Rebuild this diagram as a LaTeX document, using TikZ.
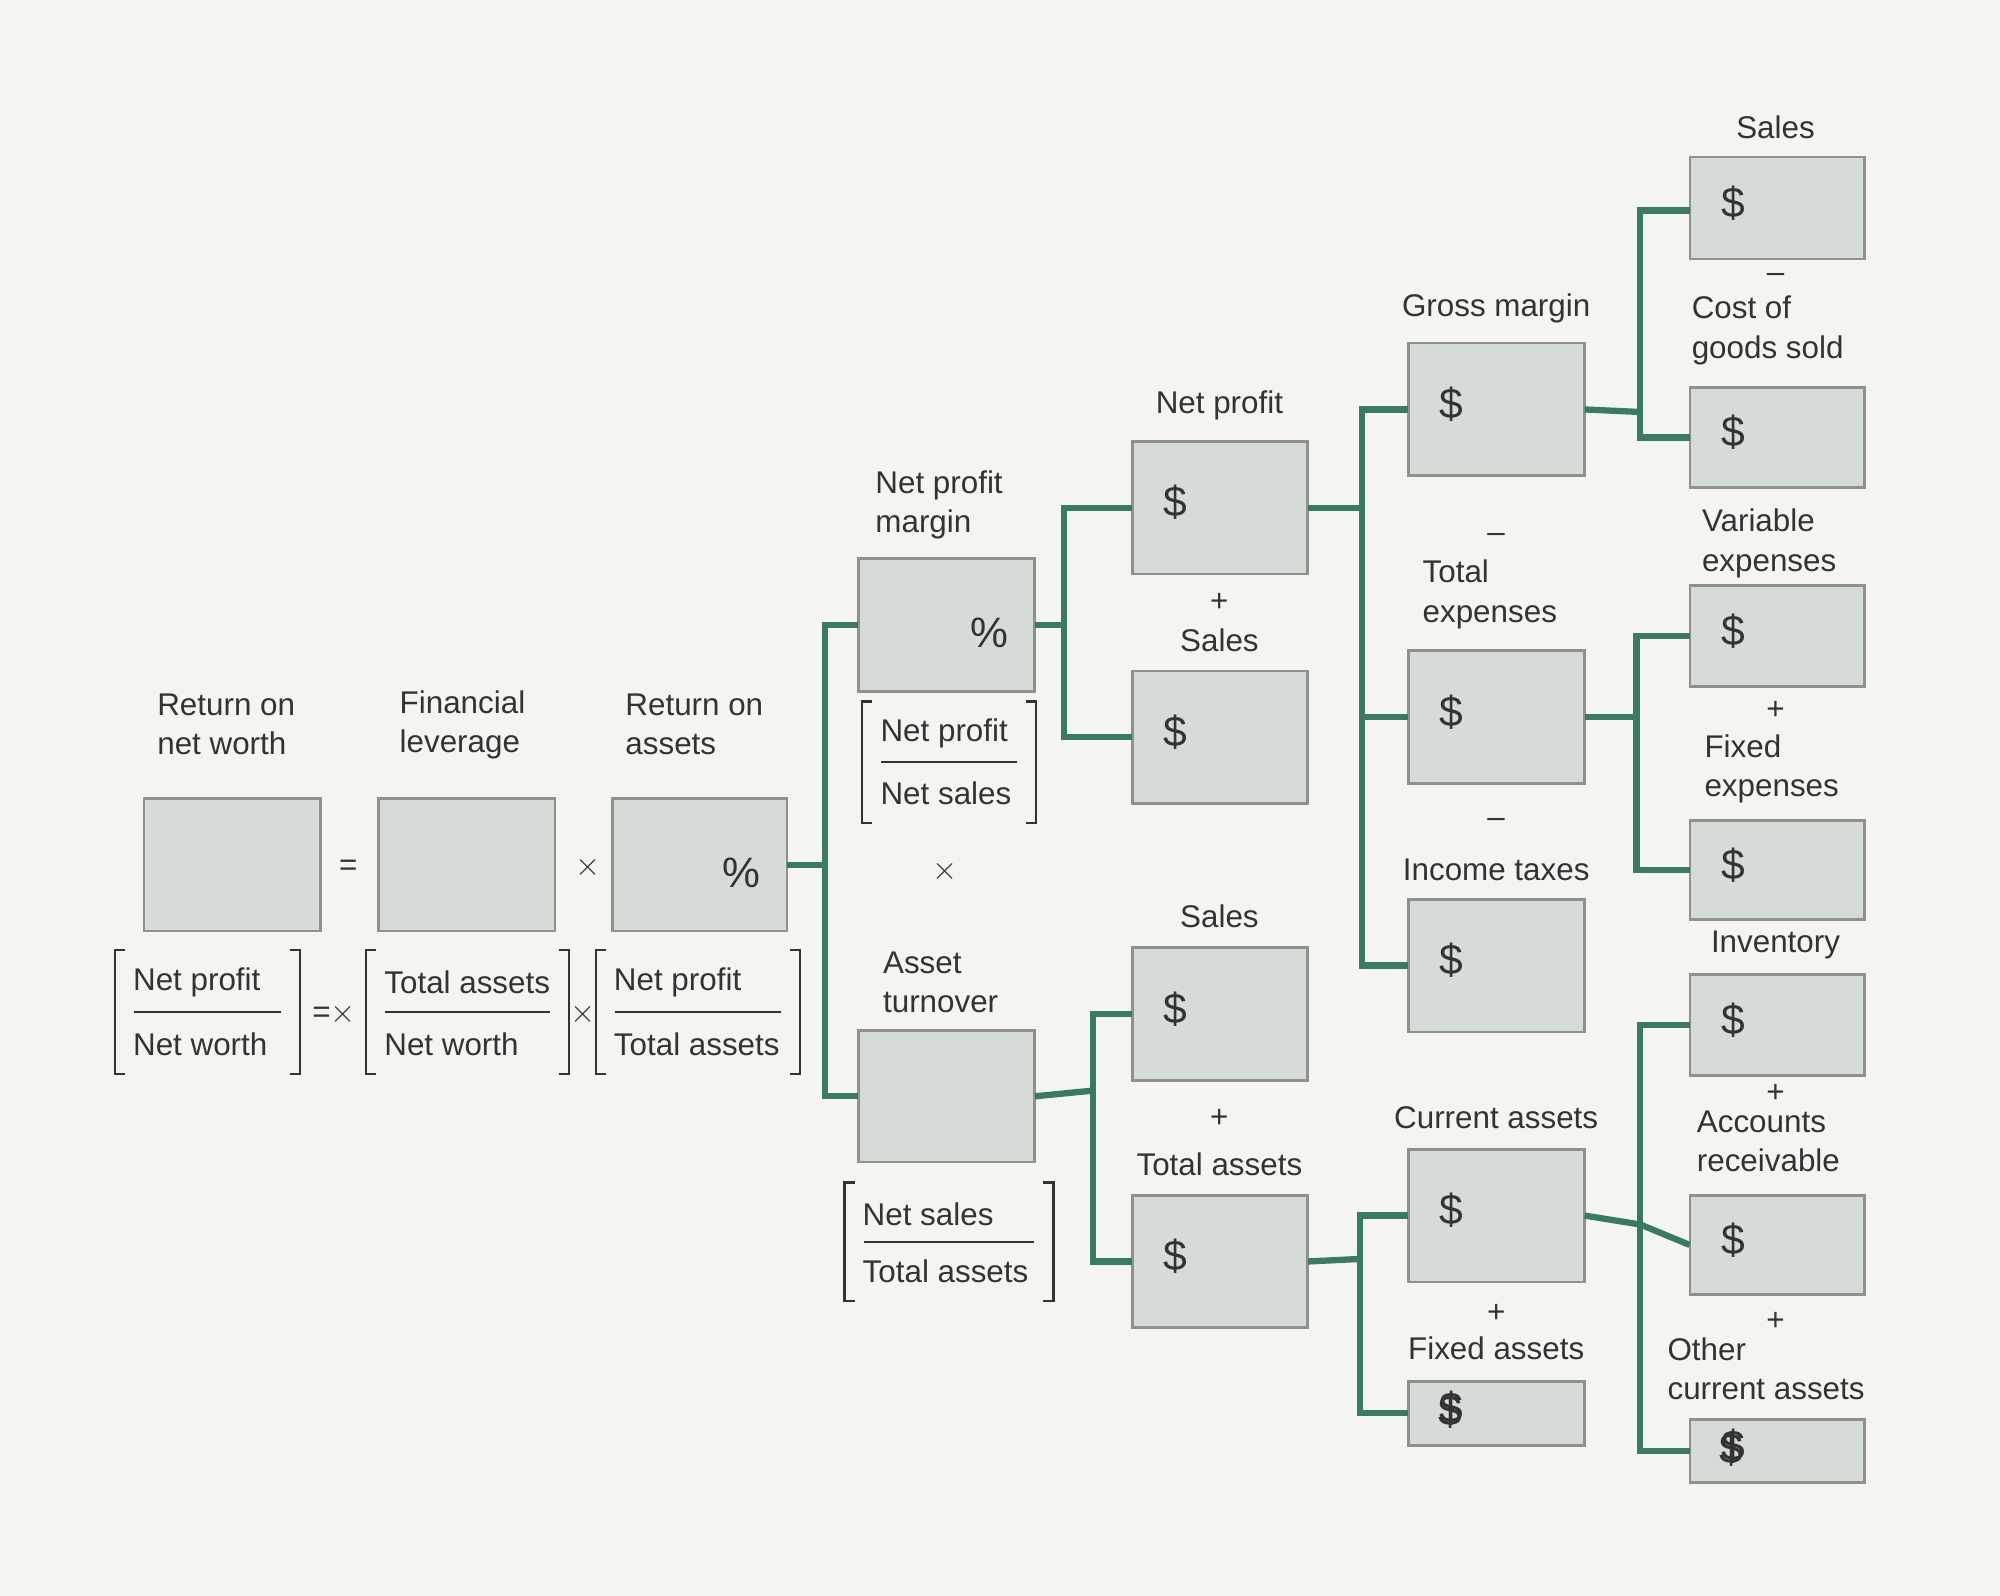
\documentclass[tikz,border=0pt]{standalone}
\usepackage{fontspec}
\setmainfont{Liberation Sans}
\definecolor{bg}{HTML}{F4F4F0}
\definecolor{bxf}{HTML}{D5DBD6}
\definecolor{bxd}{HTML}{8E918E}
\definecolor{gr}{HTML}{3A7A60}
\definecolor{tx}{HTML}{333333}
\begin{document}
\begin{tikzpicture}[x=0.02cm,y=-0.02cm,
  every node/.style={text=tx,font=\fontsize{14}{17.5}\selectfont,inner sep=0pt},
  box/.style={draw=bxd,fill=bxf,line width=1.2pt},
  conn/.style={draw=gr,line width=2.8pt},
  lab/.style={align=center},
  labl/.style={align=left,anchor=west},
  sym/.style={font=\fontsize{19}{20}\selectfont}]
\fill[bg] (0,0) rectangle (1568,1251);
\useasboundingbox (0,0) rectangle (1568,1251);
\newcommand\bx[6]{\draw[box] (#2,#3) rectangle (#4,#5); \node (#1) at ({(#2+#4)/2},{(#3+#5)/2}) [minimum width={(#4-#2)*0.02cm},minimum height={(#5-#3)*0.02cm}] {};\node[sym] (#1s) at ($(#1.west)+(34,-4)$) {#6};}
\newcommand\bxp[5]{\draw[box] (#2,#3) rectangle (#4,#5); \node (#1) at ({(#2+#4)/2},{(#3+#5)/2}) [minimum width={(#4-#2)*0.02cm},minimum height={(#5-#3)*0.02cm}] {};\node[sym] (#1s) at ($(#1.east)+(-36,6)$) {\%};}
\newcommand\fr[7]{\draw[tx,line width=1pt] (#2+8,#4)--(#2,#4)--(#2,#5)--(#2+8,#5) (#3-8,#4)--(#3,#4)--(#3,#5)--(#3-8,#5);
 \draw[tx,line width=0.8pt] (#2+15,{(#4+#5)/2})--(#3-15,{(#4+#5)/2});
 \node[anchor=west] (#1n) at (#2+14,#4+25) {#6};\node[anchor=west] (#1d) at (#2+14,#5-23) {#7};}
\usetikzlibrary{calc}
% boxes
\bx{rnw}{113}{626}{251}{730}{}
\bx{fl}{297}{626}{435}{730}{}
\bxp{roa}{480}{626}{617}{730}
\bxp{npm}{673}{438}{811}{542}
\bx{at}{673}{808}{811}{911}{}
\bx{np}{888}{346}{1025}{450}{\$}
\bx{sa}{888}{526}{1025}{630}{\$}
\bx{sb}{888}{743}{1025}{847}{\$}
\bx{ta}{888}{937}{1025}{1041}{\$}
\bx{gm}{1104}{269}{1242}{373}{\$}
\bx{te}{1104}{510}{1242}{614}{\$}
\bx{it}{1104}{705}{1242}{809}{\$}
\bx{ca}{1104}{901}{1242}{1005}{\$}
\bx{fa}{1104}{1083}{1242}{1133}{\$}
\bx{sc}{1325}{123}{1462}{203}{\$}
\bx{cg}{1325}{304}{1462}{382}{\$}
\bx{ve}{1325}{459}{1462}{538}{\$}
\bx{fe}{1325}{643}{1462}{721}{\$}
\bx{iv}{1325}{764}{1462}{843}{\$}
\bx{ar}{1325}{937}{1462}{1015}{\$}
\bx{oc}{1325}{1113}{1462}{1162}{\$}
\node[sym] (fas) at (1137,1106) {\$};
\node[sym] (ocs) at (1357,1136) {\$};
% connectors
\draw[conn] (roa.east) -- (647,678) coordinate (j1);
\draw[conn] (npm.west) -| (j1) |- (at.west);
\draw[conn] (npm.east) -- (834,490) coordinate (j2);
\draw[conn] (np.west) -| (j2) |- (sa.west);
\draw[conn] (at.east) -- (857,855) coordinate (j3);
\draw[conn] (sb.west) -| (j3) |- (ta.west);
\draw[conn] (np.east) -- (1068,398) coordinate (j4);
\draw[conn] (gm.west) -| (j4) |- (it.west);
\draw[conn] (j4) |- (te.west);
\draw[conn] (ta.east) -- (1066,987) coordinate (j5);
\draw[conn] (ca.west) -| (j5) |- (fa.west);
\draw[conn] (gm.east) -- (1286,323) coordinate (j6);
\draw[conn] ($(sc.west)+(0,2)$) -| (j6) |- ($(cg.west)+(0,0)$);
\draw[conn] (te.east) -- (1283,562) coordinate (j7);
\draw[conn] (ve.west) -| (j7) |- (fe.west);
\draw[conn] (ca.east) -- (1286,960) coordinate (j8);
\draw[conn] (iv.west) -| (j8) |- (oc.west);
\draw[conn] (j8) -- (ar.west);
% labels
\node[labl] (l1) at (123,568) {Return on\\net worth};
\node[labl] (l2) at (313,568) {Financial\\leverage};
\node[labl] (l3) at (490,568) {Return on\\assets};
\node[labl] (l4) at (686,396) {Net profit\\margin};
\node[labl] (l5) at (692,770) {Asset\\turnover};
\node[lab] (l6) at (956,318) {Net profit};
\node[lab] (l7) at (956,502) {Sales};
\node[lab] (l8) at (956,718) {Sales};
\node[lab] (l9) at (956,913) {Total assets};
\node[lab] (l10) at (1173,242) {Gross margin};
\node[labl] (l11) at (1115,466) {Total\\expenses};
\node[lab] (l12) at (1173,682) {Income taxes};
\node[lab] (l13) at (1173,876) {Current assets};
\node[lab] (l14) at (1173,1057) {Fixed assets};
\node[lab] (l15) at (1392,100) {Sales};
\node[labl] (l16) at (1326,259) {Cost of\\goods sold};
\node[labl] (l17) at (1334,426) {Variable\\expenses};
\node[labl] (l18) at (1336,603) {Fixed\\expenses};
\node[lab] (l19) at (1392,741) {Inventory};
\node[labl] (l20) at (1330,895) {Accounts\\receivable};
\node[labl] (l21) at (1307,1073) {Other\\current assets};
% signs
\node (o1) at (273,680) {=};
\node (o2) at (461,680) {$\times$};
\node (o3) at (262,795) {=$\times$};
\node (o4) at (457,795) {$\times$};
\node (o5) at (741,683) {$\times$};
\node (s1) at (956,472) {+};
\node (s2) at (1173,422) {–};
\node (s3) at (1173,645) {–};
\node (s4) at (956,877) {+};
\node (s5) at (1173,1030) {+};
\node (s6) at (1392,218) {–};
\node (s7) at (1392,557) {+};
\node (s8) at (1392,857) {+};
\node (s9) at (1392,1036) {+};
% fractions
\fr{f1}{90}{235}{745}{842}{Net profit}{Net worth}
\fr{f2}{287}{446}{745}{842}{Total assets}{Net worth}
\fr{f3}{467}{627}{745}{842}{Net profit}{Total assets}
\fr{f4}{676}{812}{550}{645}{Net profit}{Net sales}
\fr{f5}{662}{826}{927}{1020}{Net sales}{Total assets}
\end{tikzpicture}
\end{document}
